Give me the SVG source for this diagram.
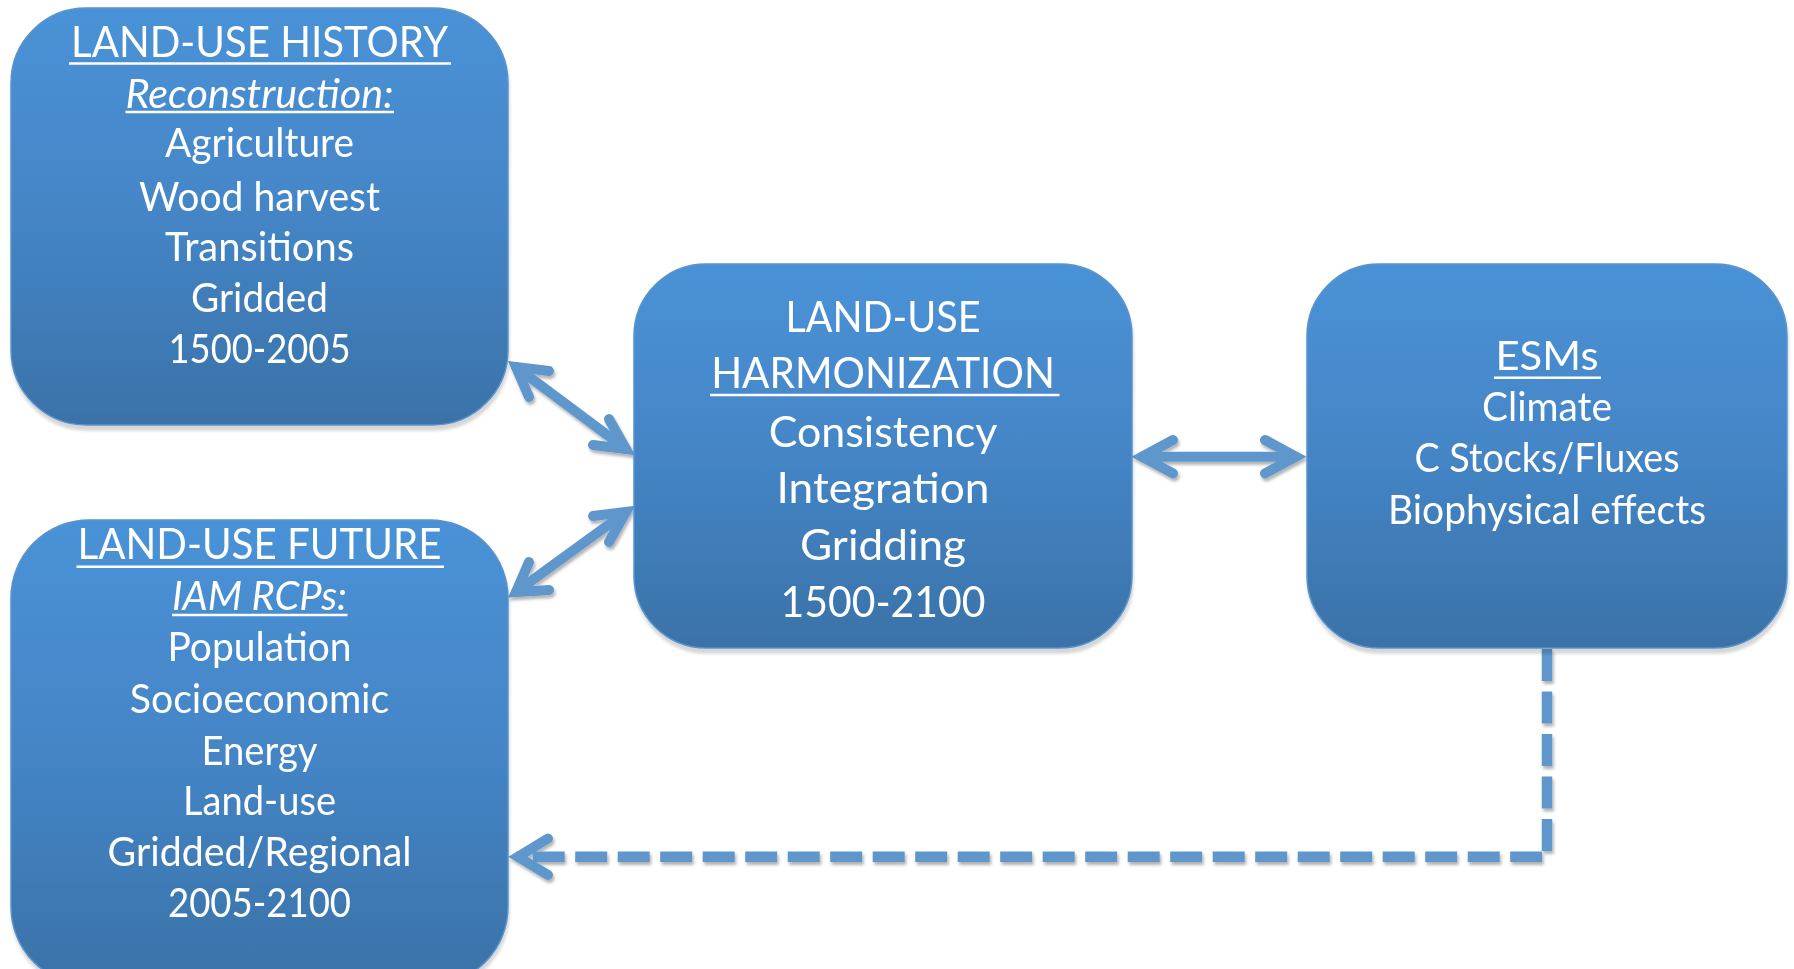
<svg xmlns="http://www.w3.org/2000/svg" width="1794" height="969" viewBox="0 0 1794 969">
  <defs>
    <linearGradient id="boxGrad" x1="0" y1="0" x2="0" y2="1">
      <stop offset="0" stop-color="#4a92d7"/>
      <stop offset="0.5" stop-color="#4485c6"/>
      <stop offset="1" stop-color="#3a72a8"/>
    </linearGradient>
    <filter id="boxShadow" x="-5%" y="-5%" width="110%" height="115%">
      <feDropShadow dx="1" dy="5" stdDeviation="1.5" flood-color="#000" flood-opacity="0.16"/>
    </filter>
    <filter id="arrowShadow" x="-20%" y="-20%" width="140%" height="140%">
      <feDropShadow dx="1.5" dy="3" stdDeviation="1.5" flood-color="#000" flood-opacity="0.3"/>
    </filter>
  </defs>
  <style>
    .box { fill: url(#boxGrad); stroke: #5a93cc; stroke-width: 1.5; }
    .t { font-family: Lato, "Open Sans", "Liberation Sans", sans-serif; fill: #ffffff; text-anchor: middle; }
    .it { font-style: italic; }
    .ul { stroke: #ffffff; stroke-width: 2.5; }
    .arrow { fill: none; stroke: #5f97cc; stroke-width: 10; stroke-linecap: round; stroke-linejoin: miter; stroke-miterlimit: 10; }
    .dash { fill: none; stroke: #5f97cc; stroke-width: 10.5; stroke-dasharray: 32 10.5; stroke-linecap: butt; stroke-linejoin: miter; }
  </style>
  <rect width="1794" height="969" fill="#ffffff"/>

  <g id="connectors" filter="url(#arrowShadow)">
    <g id="arrow-history-harmonization">
      <line class="arrow" x1="516" y1="367" x2="626" y2="449"/>
      <polyline class="arrow" points="549,371 516,367 529,397"/>
      <polyline class="arrow" points="593,445 626,449 609,419"/>
    </g>
    <g id="arrow-future-harmonization">
      <line class="arrow" x1="516" y1="592" x2="626" y2="512"/>
      <polyline class="arrow" points="549,590 516,592 529,562"/>
      <polyline class="arrow" points="593,516 626,512 609,542"/>
    </g>
    <g id="arrow-harmonization-esms">
      <line class="arrow" x1="1142" y1="456.7" x2="1296" y2="456.7"/>
      <polyline class="arrow" points="1173,440 1142,456.7 1173,473.4"/>
      <polyline class="arrow" points="1265,440 1296,456.7 1265,473.4"/>
    </g>
    <g id="arrow-esms-future">
      <path class="dash" d="M1547,649 V856.7 H516"/>
      <polyline class="arrow" points="548,838.5 518,856.7 548,875"/>
    </g>
  </g>

  <g id="node-history" filter="url(#boxShadow)">
    <rect class="box" x="11" y="8" width="497" height="417" rx="75" ry="75"/>
    <text class="t" x="259.5" y="56.7" font-size="43" textLength="377" lengthAdjust="spacingAndGlyphs">LAND-USE HISTORY</text>
    <line class="ul" x1="69" y1="63.5" x2="451" y2="63.5"/>
    <text class="t it" x="259.5" y="108.3" font-size="40" textLength="268" lengthAdjust="spacingAndGlyphs">Reconstruction:</text>
    <line class="ul" x1="125.5" y1="112" x2="394" y2="112"/>
    <text class="t" x="259.5" y="156.7" font-size="40" textLength="189" lengthAdjust="spacingAndGlyphs">Agriculture</text>
    <text class="t" x="259.5" y="210.7" font-size="40" textLength="241" lengthAdjust="spacingAndGlyphs">Wood harvest</text>
    <text class="t" x="259.5" y="260.7" font-size="40" textLength="189" lengthAdjust="spacingAndGlyphs">Transitions</text>
    <text class="t" x="259.5" y="311.7" font-size="40" textLength="137" lengthAdjust="spacingAndGlyphs">Gridded</text>
    <text class="t" x="259.5" y="362.7" font-size="40" textLength="182" lengthAdjust="spacingAndGlyphs">1500-2005</text>
  </g>

  <g id="node-future" filter="url(#boxShadow)">
    <rect class="box" x="11" y="520" width="497" height="465" rx="78" ry="78"/>
    <text class="t" x="259.5" y="559.3" font-size="43" textLength="364" lengthAdjust="spacingAndGlyphs">LAND-USE FUTURE</text>
    <line class="ul" x1="76.5" y1="566.7" x2="444" y2="566.7"/>
    <text class="t it" x="259.5" y="610" font-size="40" textLength="175" lengthAdjust="spacingAndGlyphs">IAM RCPs:</text>
    <line class="ul" x1="172" y1="615" x2="347.5" y2="615"/>
    <text class="t" x="259.5" y="661" font-size="40" textLength="184" lengthAdjust="spacingAndGlyphs">Population</text>
    <text class="t" x="259.5" y="713.3" font-size="40" textLength="259.5" lengthAdjust="spacingAndGlyphs">Socioeconomic</text>
    <text class="t" x="259.5" y="765" font-size="40" textLength="116" lengthAdjust="spacingAndGlyphs">Energy</text>
    <text class="t" x="259.5" y="815" font-size="40" textLength="153" lengthAdjust="spacingAndGlyphs">Land-use</text>
    <text class="t" x="259.5" y="866" font-size="40" textLength="304" lengthAdjust="spacingAndGlyphs">Gridded/Regional</text>
    <text class="t" x="259.5" y="916.7" font-size="40" textLength="183" lengthAdjust="spacingAndGlyphs">2005-2100</text>
  </g>

  <g id="node-harmonization" filter="url(#boxShadow)">
    <rect class="box" x="634" y="264" width="498" height="384" rx="72" ry="72"/>
    <text class="t" x="883" y="331.7" font-size="43" textLength="195" lengthAdjust="spacingAndGlyphs">LAND-USE</text>
    <text class="t" x="883" y="387.7" font-size="43" textLength="343.7" lengthAdjust="spacingAndGlyphs">HARMONIZATION</text>
    <line class="ul" x1="710" y1="395" x2="1059.5" y2="395"/>
    <text class="t" x="883" y="446.7" font-size="43" textLength="228.6" lengthAdjust="spacingAndGlyphs">Consistency</text>
    <text class="t" x="883" y="503.3" font-size="43" textLength="213" lengthAdjust="spacingAndGlyphs">Integration</text>
    <text class="t" x="883" y="560" font-size="43" textLength="166" lengthAdjust="spacingAndGlyphs">Gridding</text>
    <text class="t" x="883" y="616.7" font-size="43" textLength="205" lengthAdjust="spacingAndGlyphs">1500-2100</text>
  </g>

  <g id="node-esms" filter="url(#boxShadow)">
    <rect class="box" x="1307" y="264" width="480" height="384" rx="72" ry="72"/>
    <text class="t" x="1547" y="370" font-size="40" textLength="103" lengthAdjust="spacingAndGlyphs">ESMs</text>
    <line class="ul" x1="1494" y1="377.7" x2="1601" y2="377.7"/>
    <text class="t" x="1547" y="420.7" font-size="40" textLength="130" lengthAdjust="spacingAndGlyphs">Climate</text>
    <text class="t" x="1547" y="471.7" font-size="40" textLength="265" lengthAdjust="spacingAndGlyphs">C Stocks/Fluxes</text>
    <text class="t" x="1547" y="524" font-size="40" textLength="318" lengthAdjust="spacingAndGlyphs">Biophysical effects</text>
  </g>
</svg>
